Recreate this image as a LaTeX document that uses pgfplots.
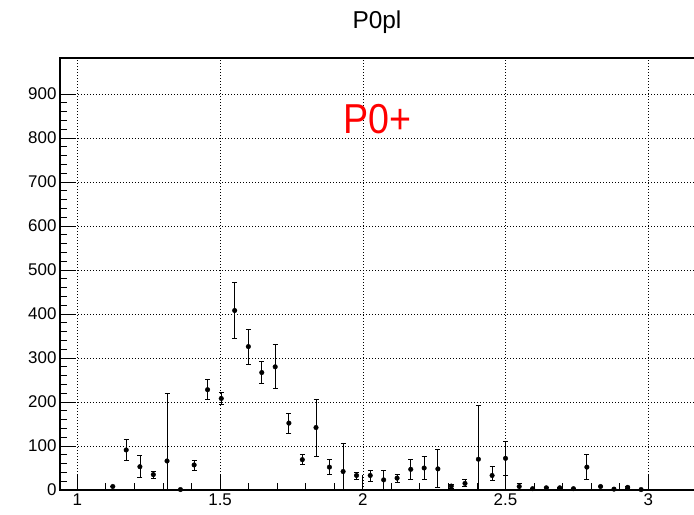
\documentclass[border=0pt]{standalone}
\usepackage{fontspec}
\setmainfont{Liberation Sans}
\usepackage{pgfplots}
\usepackage{pgfplotstable}
\pgfplotsset{compat=1.18}

% bin centre, content, error up, error down
\pgfplotstableread{
x      y    ep   em
1.124  8    0    0
1.171  91   23   23
1.219  53   25   24
1.266  35   7    8
1.314  66   154  154
1.361  1    0    0
1.409  57   10   12
1.456  228  23   22
1.504  208  13   14
1.551  408  64   63
1.599  326  40   41
1.646  267  25   25
1.693  280  50   50
1.741  152  21   23
1.788  69   11   11
1.836  142  64   65
1.883  52   17   17
1.931  42   64   64
1.978  33   8    9
2.026  33   12   13
2.073  23   22   23
2.120  27   9    9
2.168  47   23   23
2.215  50   27   27
2.263  48   44   43
2.310  9    4    5
2.358  15   8    7
2.405  70   122  122
2.453  33   20   12
2.500  72   39   39
2.548  8    6    6
2.595  3    0    0
2.643  5    0    0
2.690  5    2    2
2.738  3    0    0
2.785  52   30   29
2.833  8    0    0
2.880  2    0    0
2.928  6    2    2
2.975  1    0    0
}\pzeropl

\begin{document}
\begin{tikzpicture}
\begin{axis}[
  at={(0,0)}, anchor=south west,
  scale only axis, width=645.3bp, height=432bp,
  xmin=0.939, xmax=3.2, ymin=0, ymax=982,
  xtick={1,1.5,2,2.5,3}, ytick={0,100,...,900},
  minor x tick num=4, minor y tick num=4,
  tick pos=left, tick align=inside,
  major tick length=15bp, minor tick length=7.5bp,
  tick style={black, line width=0.9bp},
  axis line style={black, line width=1.2bp},
  grid=major,
  grid style={black, line width=0.6bp, dash pattern=on 1bp off 2bp},
  ticklabel style={font=\fontsize{17}{17}\selectfont},
  /pgf/number format/assume math mode=true,
]
\addplot[only marks, black, mark=*, mark size=2.3bp, mark options={fill=black},
  error bars/.cd, y dir=both, y explicit,
  error bar style={line width=0.8bp, black},
  error mark options={rotate=90, mark size=2.5bp, line width=0.8bp, black}]
  table[x=x, y=y, y error plus=ep, y error minus=em] {\pzeropl};
\node[anchor=base, text=red, font=\fontsize{42}{42}\selectfont]
  at (axis cs:2.0515,811) {\scalebox{0.9}[1]{P0+}};
\end{axis}
\node[anchor=base, font=\fontsize{24.5}{24.5}\selectfont] at (317bp,461.7bp) {P0pl};
\pgfresetboundingbox
\useasboundingbox (-60bp,-25bp) rectangle (634bp,490bp);
\end{tikzpicture}
\end{document}
